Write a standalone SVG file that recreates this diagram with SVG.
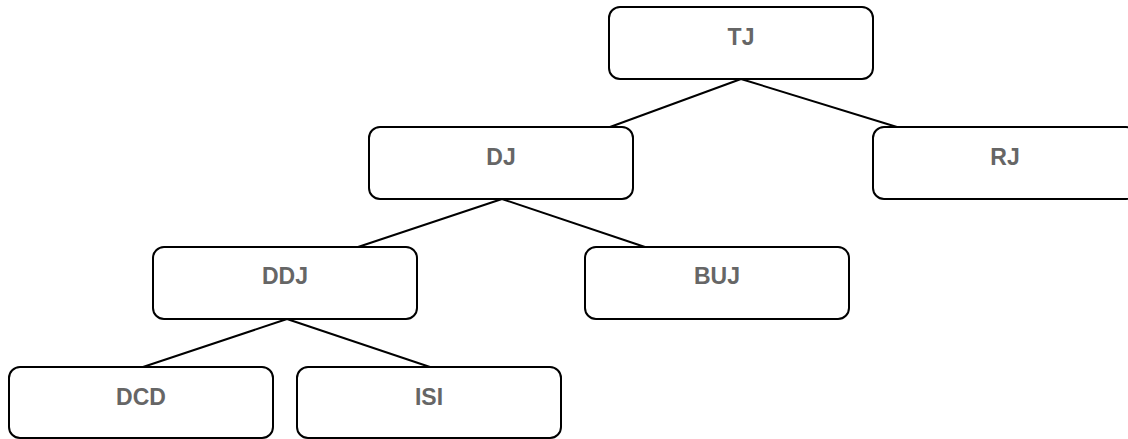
<svg xmlns="http://www.w3.org/2000/svg" width="1128" height="439" viewBox="0 0 1128 439">
<style>
.box{fill:#fff;stroke:#000;stroke-width:2}
.lbl{font-family:"Liberation Sans",Arial,sans-serif;font-weight:bold;font-size:23px;fill:#666;text-anchor:middle}
.edge{stroke:#000;stroke-width:2;fill:none}
</style>
<rect width="1128" height="439" fill="#fff"/>
<g id="connectors">
<line class="edge" x1="741" y1="79" x2="610" y2="127"/>
<line class="edge" x1="741" y1="79" x2="897" y2="127"/>
<line class="edge" x1="502" y1="199" x2="358" y2="247"/>
<line class="edge" x1="502" y1="199" x2="645" y2="247"/>
<line class="edge" x1="287" y1="319" x2="143" y2="367"/>
<line class="edge" x1="287" y1="319" x2="430" y2="367"/>
</g>
<g id="TJ"><rect class="box" x="609" y="7" width="264" height="72" rx="11"/><text class="lbl" x="741" y="45">TJ</text></g>
<g id="DJ"><rect class="box" x="369" y="127" width="264" height="72" rx="11"/><text class="lbl" x="501" y="165">DJ</text></g>
<g id="RJ"><rect class="box" x="873" y="127" width="264" height="72" rx="11"/><text class="lbl" x="1005" y="165">RJ</text></g>
<g id="DDJ"><rect class="box" x="153" y="247" width="264" height="72" rx="11"/><text class="lbl" x="285" y="284">DDJ</text></g>
<g id="BUJ"><rect class="box" x="585" y="247" width="264" height="72" rx="11"/><text class="lbl" x="717" y="284">BUJ</text></g>
<g id="DCD"><rect class="box" x="9" y="367" width="264" height="71" rx="11"/><text class="lbl" x="141" y="405">DCD</text></g>
<g id="ISI"><rect class="box" x="297" y="367" width="264" height="71" rx="11"/><text class="lbl" x="429" y="405">ISI</text></g>
</svg>
